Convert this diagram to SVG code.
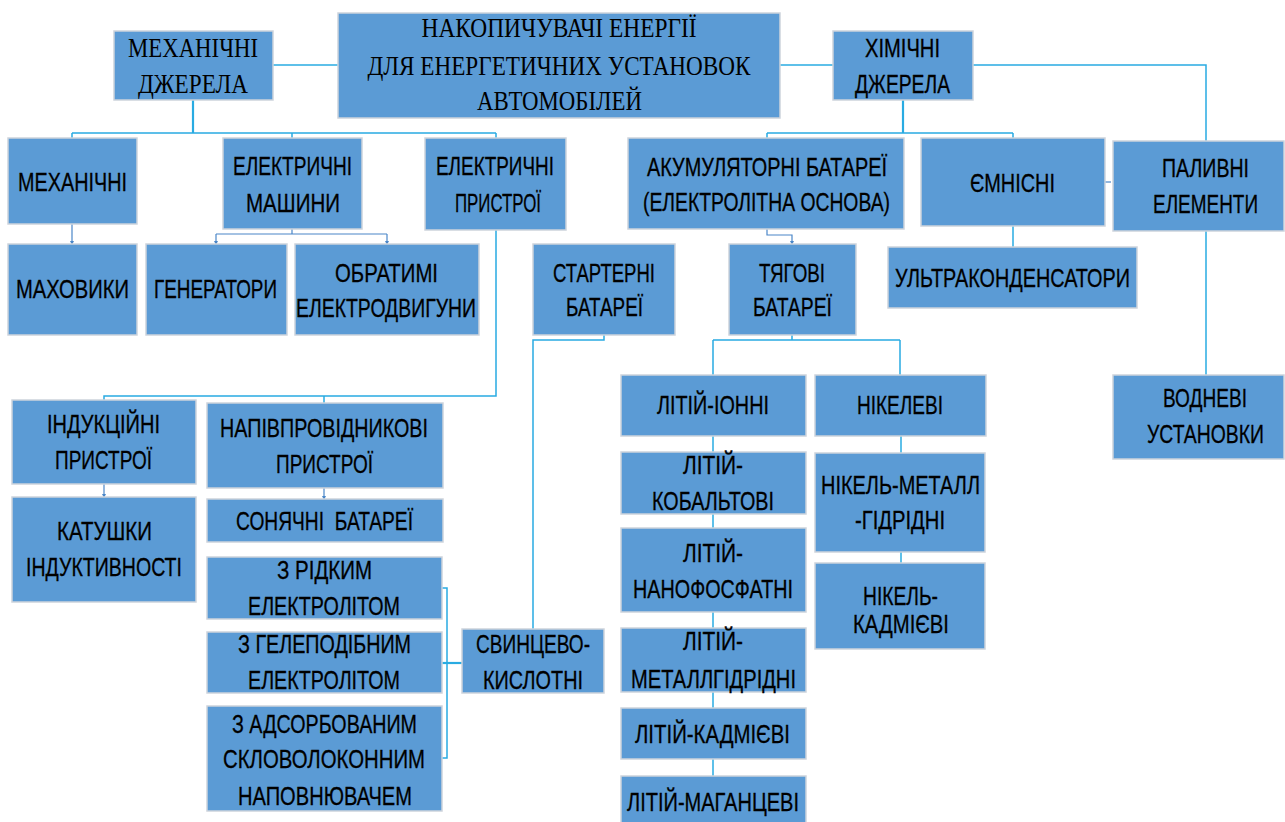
<svg xmlns="http://www.w3.org/2000/svg" width="1285" height="822" viewBox="0 0 1285 822">
<defs>
<style>
.b{fill:#5B9BD5;stroke:#CDD3DB;stroke-width:1.5}
.t{font-family:"Liberation Sans",Arial,sans-serif;font-size:26px;fill:#000;stroke:#000;stroke-width:0.3;text-anchor:middle;white-space:pre}
.s{font-family:"Liberation Serif","Times New Roman",serif;font-size:28px;fill:#000;text-anchor:middle}
.c{fill:none;stroke:#29ABE2;stroke-width:1.5}
.ct{fill:none;stroke:#29ABE2;stroke-width:2.2}
.d{fill:none;stroke:#4A86C8;stroke-width:1.2}
</style>
<marker id="ah" markerWidth="4" markerHeight="4" refX="2" refY="2" orient="auto" markerUnits="userSpaceOnUse">
<path d="M0,0 L4,2 L0,4 z" fill="#4A86C8"/>
</marker>
</defs>
<rect width="1285" height="822" fill="#fff"/>
<g id="connectors">
<path class="c" d="M273,65 H338"/>
<path class="c" d="M780,65 H833"/>
<path class="c" d="M973,65 H1206 V141"/>
<path class="ct" d="M193,100 V133"/>
<path class="c" d="M72,133 H496 M72,133 V138 M292,133 V138 M496,133 V138"/>
<path class="ct" d="M903,100 V133"/>
<path class="c" d="M767,133 H1013 M767,133 V138 M1013,133 V138"/>
<path class="d" d="M72,224 V243" marker-end="url(#ah)"/>
<path class="d" d="M292,229 V234 M216,234 H387"/>
<path class="d" d="M216,234 V243" marker-end="url(#ah)"/>
<path class="d" d="M387,234 V243" marker-end="url(#ah)"/>
<path class="c" d="M496,230 V396 H104 V400 M324,396 V403"/>
<path class="d" d="M767,229 V235 H792 V243" marker-end="url(#ah)"/>
<path class="c" d="M1013,226 V247"/>
<path class="c" d="M1206,231 V375"/>
<path class="c" d="M604,335 V340 H533 V629"/>
<path class="c" d="M792,335 V340 M713,340 H900 M713,340 V375 M900,340 V375"/>
<path class="c" d="M713,436 V776"/>
<path class="c" d="M901,436 V563"/>
<path class="d" d="M104,484 V496" marker-end="url(#ah)"/>
<path class="d" d="M324,488 V498" marker-end="url(#ah)"/>
<path class="c" d="M442,588 H447 V758 H442"/>
<path class="ct" d="M442,663 H462"/>
<path class="d" d="M1105,182 H1111"/>
</g>
<g id="root"><rect class="b" x="338" y="13" width="442" height="105"/>
<text class="s" x="559" y="37" textLength="275" lengthAdjust="spacingAndGlyphs">НАКОПИЧУВАЧІ ЕНЕРГІЇ</text>
<text class="s" x="559" y="75" textLength="383" lengthAdjust="spacingAndGlyphs">ДЛЯ ЕНЕРГЕТИЧНИХ УСТАНОВОК</text>
<text class="s" x="559.5" y="110" textLength="165" lengthAdjust="spacingAndGlyphs">АВТОМОБІЛЕЙ</text></g>
<g id="mechSrc"><rect class="b" x="114" y="31" width="159" height="69"/>
<text class="s" x="193" y="57" textLength="130" lengthAdjust="spacingAndGlyphs">МЕХАНІЧНІ</text>
<text class="s" x="193" y="93" textLength="110" lengthAdjust="spacingAndGlyphs">ДЖЕРЕЛА</text></g>
<g id="chemSrc"><rect class="b" x="833" y="31" width="140" height="69"/>
<text class="t" x="902.5" y="57" textLength="75" lengthAdjust="spacingAndGlyphs">ХІМІЧНІ</text>
<text class="t" x="902.5" y="93" textLength="95" lengthAdjust="spacingAndGlyphs">ДЖЕРЕЛА</text></g>
<g id="mech"><rect class="b" x="8" y="138" width="129" height="86"/>
<text class="t" x="72.5" y="191" textLength="109" lengthAdjust="spacingAndGlyphs">МЕХАНІЧНІ</text></g>
<g id="elMach"><rect class="b" x="223" y="138" width="139" height="91"/>
<text class="t" x="292.5" y="175" textLength="119" lengthAdjust="spacingAndGlyphs">ЕЛЕКТРИЧНІ</text>
<text class="t" x="293" y="212" textLength="94" lengthAdjust="spacingAndGlyphs">МАШИНИ</text></g>
<g id="elDev"><rect class="b" x="425" y="138" width="141" height="92"/>
<text class="t" x="495" y="175" textLength="118" lengthAdjust="spacingAndGlyphs">ЕЛЕКТРИЧНІ</text>
<text class="t" x="498" y="212" textLength="86" lengthAdjust="spacingAndGlyphs">ПРИСТРОЇ</text></g>
<g id="accum"><rect class="b" x="628" y="138" width="276" height="91"/>
<text class="t" x="767" y="176" textLength="240" lengthAdjust="spacingAndGlyphs">АКУМУЛЯТОРНІ БАТАРЕЇ</text>
<text class="t" x="766.5" y="211" textLength="247" lengthAdjust="spacingAndGlyphs">(ЕЛЕКТРОЛІТНА ОСНОВА)</text></g>
<g id="capac"><rect class="b" x="921" y="138" width="184" height="88"/>
<text class="t" x="1012.5" y="192" textLength="85" lengthAdjust="spacingAndGlyphs">ЄМНІСНІ</text></g>
<g id="fuel"><rect class="b" x="1113" y="141" width="171" height="90"/>
<text class="t" x="1205.5" y="177" textLength="87" lengthAdjust="spacingAndGlyphs">ПАЛИВНІ</text>
<text class="t" transform="translate(1205.5,213) scale(0.75,1)" x="0" y="0" textLength="140" lengthAdjust="spacingAndGlyphs">ЕЛЕМЕНТИ</text></g>
<g id="flywheel"><rect class="b" x="8" y="244" width="129" height="91"/>
<text class="t" x="72.5" y="298" textLength="113" lengthAdjust="spacingAndGlyphs">МАХОВИКИ</text></g>
<g id="gen"><rect class="b" x="146" y="244" width="141" height="91"/>
<text class="t" x="215.5" y="298" textLength="123" lengthAdjust="spacingAndGlyphs">ГЕНЕРАТОРИ</text></g>
<g id="motor"><rect class="b" x="295" y="244" width="184" height="91"/>
<text class="t" x="386.5" y="282" textLength="103" lengthAdjust="spacingAndGlyphs">ОБРАТИМІ</text>
<text class="t" x="386" y="317" textLength="180" lengthAdjust="spacingAndGlyphs">ЕЛЕКТРОДВИГУНИ</text></g>
<g id="starter"><rect class="b" x="533" y="244" width="142" height="91"/>
<text class="t" x="604" y="282" textLength="102" lengthAdjust="spacingAndGlyphs">СТАРТЕРНІ</text>
<text class="t" x="604.5" y="316" textLength="77" lengthAdjust="spacingAndGlyphs">БАТАРЕЇ</text></g>
<g id="traction"><rect class="b" x="729" y="244" width="127" height="91"/>
<text class="t" x="792" y="282" textLength="66" lengthAdjust="spacingAndGlyphs">ТЯГОВІ</text>
<text class="t" x="792.5" y="316" textLength="79" lengthAdjust="spacingAndGlyphs">БАТАРЕЇ</text></g>
<g id="ultra"><rect class="b" x="888" y="247" width="249" height="61"/>
<text class="t" x="1012.5" y="287" textLength="235" lengthAdjust="spacingAndGlyphs">УЛЬТРАКОНДЕНСАТОРИ</text></g>
<g id="hydrogen"><rect class="b" x="1113" y="375" width="171" height="84"/>
<text class="t" x="1205" y="407" textLength="84" lengthAdjust="spacingAndGlyphs">ВОДНЕВІ</text>
<text class="t" transform="translate(1205.5,443) scale(0.75,1)" x="0" y="0" textLength="156" lengthAdjust="spacingAndGlyphs">УСТАНОВКИ</text></g>
<g id="nickel"><rect class="b" x="815" y="375" width="171" height="61"/>
<text class="t" x="900" y="414" textLength="86" lengthAdjust="spacingAndGlyphs">НІКЕЛЕВІ</text></g>
<g id="liIon"><rect class="b" x="621" y="375" width="185" height="61"/>
<text class="t" x="713" y="414" textLength="112" lengthAdjust="spacingAndGlyphs">ЛІТІЙ-ІОННІ</text></g>
<g id="liCo"><rect class="b" x="621" y="452" width="185" height="62"/>
<text class="t" x="713" y="474" textLength="60" lengthAdjust="spacingAndGlyphs">ЛІТІЙ-</text>
<text class="t" x="713" y="510" textLength="122" lengthAdjust="spacingAndGlyphs">КОБАЛЬТОВІ</text></g>
<g id="liNano"><rect class="b" x="621" y="528" width="185" height="84"/>
<text class="t" x="713" y="562" textLength="60" lengthAdjust="spacingAndGlyphs">ЛІТІЙ-</text>
<text class="t" x="713" y="598" textLength="160" lengthAdjust="spacingAndGlyphs">НАНОФОСФАТНІ</text></g>
<g id="liMetal"><rect class="b" x="621" y="628" width="185" height="64"/>
<text class="t" x="713" y="650" textLength="60" lengthAdjust="spacingAndGlyphs">ЛІТІЙ-</text>
<text class="t" x="713.5" y="688" textLength="165" lengthAdjust="spacingAndGlyphs">МЕТАЛЛГІДРІДНІ</text></g>
<g id="liCd"><rect class="b" x="621" y="708" width="185" height="51"/>
<text class="t" x="712.5" y="743" textLength="155" lengthAdjust="spacingAndGlyphs">ЛІТІЙ-КАДМІЄВІ</text></g>
<g id="liMn"><rect class="b" x="621" y="776" width="185" height="56"/>
<text class="t" x="713" y="811" textLength="172" lengthAdjust="spacingAndGlyphs">ЛІТІЙ-МАГАНЦЕВІ</text></g>
<g id="niMH"><rect class="b" x="815" y="453" width="170" height="99"/>
<text class="t" x="900.5" y="494" textLength="159" lengthAdjust="spacingAndGlyphs">НІКЕЛЬ-МЕТАЛЛ</text>
<text class="t" x="900" y="529" textLength="90" lengthAdjust="spacingAndGlyphs">-ГІДРІДНІ</text></g>
<g id="niCd"><rect class="b" x="815" y="563" width="170" height="86"/>
<text class="t" x="900.5" y="605" textLength="75" lengthAdjust="spacingAndGlyphs">НІКЕЛЬ-</text>
<text class="t" x="901" y="633" textLength="96" lengthAdjust="spacingAndGlyphs">КАДМІЄВІ</text></g>
<g id="induct"><rect class="b" x="12" y="400" width="184" height="84"/>
<text class="t" x="103.5" y="433" textLength="113" lengthAdjust="spacingAndGlyphs">ІНДУКЦІЙНІ</text>
<text class="t" x="103.5" y="469" textLength="97" lengthAdjust="spacingAndGlyphs">ПРИСТРОЇ</text></g>
<g id="coils"><rect class="b" x="12" y="497" width="184" height="105"/>
<text class="t" x="104.5" y="540" textLength="95" lengthAdjust="spacingAndGlyphs">КАТУШКИ</text>
<text class="t" x="104" y="576" textLength="156" lengthAdjust="spacingAndGlyphs">ІНДУКТИВНОСТІ</text></g>
<g id="semi"><rect class="b" x="207" y="403" width="236" height="85"/>
<text class="t" x="324" y="437" textLength="208" lengthAdjust="spacingAndGlyphs">НАПІВПРОВІДНИКОВІ</text>
<text class="t" x="324.5" y="473" textLength="97" lengthAdjust="spacingAndGlyphs">ПРИСТРОЇ</text></g>
<g id="solar"><rect class="b" x="207" y="499" width="236" height="43"/>
<text class="t" x="324.5" y="530" textLength="177" lengthAdjust="spacingAndGlyphs">СОНЯЧНІ  БАТАРЕЇ</text></g>
<g id="liquid"><rect class="b" x="207" y="557" width="235" height="62"/>
<text class="t" x="324.5" y="579" textLength="95" lengthAdjust="spacingAndGlyphs">З РІДКИМ</text>
<text class="t" x="324" y="615" textLength="152" lengthAdjust="spacingAndGlyphs">ЕЛЕКТРОЛІТОМ</text></g>
<g id="gel"><rect class="b" x="207" y="632" width="235" height="61"/>
<text class="t" x="324.5" y="653" textLength="173" lengthAdjust="spacingAndGlyphs">З ГЕЛЕПОДІБНИМ</text>
<text class="t" x="324" y="689" textLength="152" lengthAdjust="spacingAndGlyphs">ЕЛЕКТРОЛІТОМ</text></g>
<g id="agm"><rect class="b" x="207" y="706" width="235" height="105"/>
<text class="t" x="324.5" y="733" textLength="185" lengthAdjust="spacingAndGlyphs">З АДСОРБОВАНИМ</text>
<text class="t" x="324" y="768" textLength="202" lengthAdjust="spacingAndGlyphs">СКЛОВОЛОКОННИМ</text>
<text class="t" x="325" y="805" textLength="174" lengthAdjust="spacingAndGlyphs">НАПОВНЮВАЧЕМ</text></g>
<g id="lead"><rect class="b" x="462" y="629" width="142" height="64"/>
<text class="t" x="533" y="653" textLength="114" lengthAdjust="spacingAndGlyphs">СВИНЦЕВО-</text>
<text class="t" x="533" y="689" textLength="100" lengthAdjust="spacingAndGlyphs">КИСЛОТНІ</text></g>
</svg>
